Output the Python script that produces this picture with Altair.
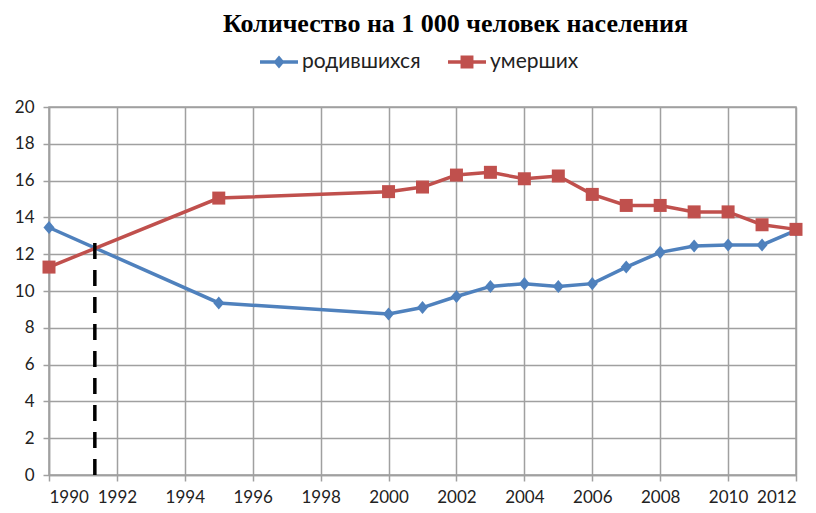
import altair as alt
import pandas as pd

years = [1990, 1995, 2000, 2001, 2002, 2003, 2004, 2005, 2006, 2007, 2008, 2009, 2010, 2011, 2012]
births = [13.45, 9.35, 8.75, 9.1, 9.7, 10.25, 10.4, 10.25, 10.4, 11.3, 12.1, 12.45, 12.5, 12.5, 13.3]
deaths = [11.3, 15.05, 15.4, 15.65, 16.3, 16.45, 16.1, 16.25, 15.25, 14.65, 14.65, 14.3, 14.3, 13.6, 13.35]
series = ["родившихся", "умерших"]
colors = ["#4F81BD", "#C0504D"]
title_text = "Количество на 1 000 человек населения"
x_ticks = list(range(1990, 2013, 2))
y_ticks = list(range(0, 21, 2))
marker_year = [1991.35]
marker_top = [12.8]

df = pd.DataFrame(
    {"year": years * 2,
     "value": births + deaths,
     "series": [series[0]] * len(years) + [series[1]] * len(years)}
)
vline = pd.DataFrame({"year": marker_year, "value": [0], "top": marker_top})

diamond_legend = "M-1,-0.09L1,-0.09L1,0.09L-1,0.09Z M0,-0.34L0.29,0L0,0.34L-0.29,0Z"
square_legend = "M-1,-0.09L1,-0.09L1,0.09L-1,0.09Z M-0.34,-0.34L0.34,-0.34L0.34,0.34L-0.34,0.34Z"
diamond_mark = "M0,-1L0.85,0L0,1L-0.85,0Z"

grid_color = "#A0A0A0"
label_font = "Lato"

x_enc = alt.X("year:Q",
              scale=alt.Scale(domain=[1990, 2012], nice=False, zero=False),
              axis=alt.Axis(values=x_ticks, format="d", title=None))
y_enc = alt.Y("value:Q",
              scale=alt.Scale(domain=[0, 20], nice=False),
              axis=alt.Axis(values=y_ticks, title=None))

layers = []
for name, col, shape, size in [(series[0], colors[0], diamond_mark, 170),
                               (series[1], colors[1], "square", 169)]:
    base = alt.Chart(df).transform_filter(alt.datum.series == name)
    layers.append(base.mark_line(strokeWidth=3.5, color=col).encode(x=x_enc, y=y_enc))
    layers.append(base.mark_point(filled=True, opacity=1, shape=shape, size=size, color=col)
                  .encode(x=x_enc, y=y_enc))

leg = alt.Legend(
    title=None, orient="none", direction="horizontal", legendX=211, legendY=-64,
    symbolOpacity=1, symbolSize=1444, symbolStrokeWidth=0,
    labelFont=label_font, labelFontSize=21, labelColor="#222222",
    labelOffset=4, columnPadding=27)

legend_layer = alt.Chart(df).mark_point(filled=True, opacity=1, size=0).encode(
    x=x_enc, y=y_enc,
    color=alt.Color("series:N", scale=alt.Scale(domain=series, range=colors), legend=leg),
    shape=alt.Shape("series:N", scale=alt.Scale(domain=series, range=[diamond_legend, square_legend]),
                    legend=leg),
)

dash = alt.Chart(vline).mark_rule(color="black", strokeWidth=3.5, strokeDash=[16, 11]).encode(
    x=x_enc, y=y_enc, y2="top:Q"
)

chart = alt.layer(*layers, legend_layer, dash).properties(
    width=747, height=368,
    padding={"left": 6, "top": 3, "right": 0, "bottom": 0},
    title=alt.TitleParams(title_text, font="Liberation Serif", fontSize=26, fontWeight="bold",
                          color="black", anchor="middle", dx=33, offset=6),
).configure_axis(
    gridColor=grid_color, gridWidth=1.5, gridOpacity=1,
    domainColor=grid_color, domainWidth=1.5,
    tickColor=grid_color, tickWidth=1.5, tickSize=6,
    labelFont=label_font, labelFontSize=17, labelColor="#222222",
).configure_axisY(labelPadding=9).configure_axisX(labelPadding=8).configure_view(
    stroke=grid_color, strokeWidth=1.5
)

chart.save("out.html", embed_options={"renderer": "svg", "actions": False})
